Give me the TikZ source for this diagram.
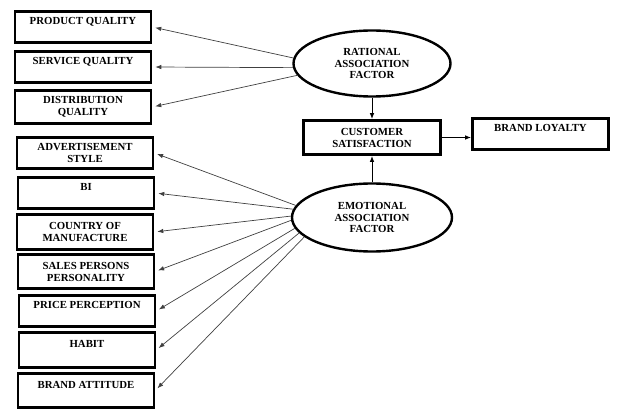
\documentclass[tikz,border=0pt]{standalone}
\usepackage{fontspec}
\setmainfont{Liberation Serif}
\usetikzlibrary{arrows.meta,shapes.geometric}

\begin{document}
\begin{tikzpicture}[x=1pt,y=-1pt,
    item/.style={draw,line width=2.6pt,minimum width=136pt,minimum height=31pt,
      inner sep=1pt,align=center,font=\fontsize{10.8}{12}\selectfont\bfseries},
    factor/.style={ellipse,draw,line width=2.4pt,inner sep=0pt,align=center,
      font=\fontsize{10.8}{11.5}\selectfont\bfseries},
    flow/.style={-{Latex[length=6pt,width=4.5pt]},draw=black!75,line width=0.7pt,shorten >=3pt},
    link/.style={-{Latex[length=6pt,width=4.5pt]},draw=black,line width=1pt}
  ]
    \useasboundingbox (0,0) rectangle (624,417);

    % rational side
    \node[item] (pq) at (83,27) {PRODUCT QUALITY\\~};
    \node[item] (sq) at (83,67) {SERVICE QUALITY\\~};
    \node[item,minimum height=33pt] (dq) at (83,107) {DISTRIBUTION\\QUALITY};

    % emotional side
    \node[item] (adv) at (85,153) {ADVERTISEMENT\\STYLE};
    \node[item] (bi) at (86,193) {BI\\~};
    \node[item,minimum height=35pt] (com) at (85,232) {COUNTRY OF\\MANUFACTURE};
    \node[item,minimum height=34pt] (spp) at (86,271.5) {SALES PERSONS\\PERSONALITY};
    \node[item] (pp) at (87,311) {PRICE PERCEPTION\\~};
    \node[item,minimum height=35pt] (hab) at (87,350) {HABIT\\~};
    \node[item,minimum height=34pt] (ba) at (86,390.5) {BRAND ATTITUDE\\~};

    % factors and outcomes
    \node[factor,minimum width=157pt,minimum height=66pt] (raf) at (372,63.5)
      {RATIONAL\\ASSOCIATION\\FACTOR};
    \node[factor,minimum width=160pt,minimum height=68pt] (eaf) at (372,217.5)
      {EMOTIONAL\\ASSOCIATION\\FACTOR};
    \node[item,minimum width=137pt,minimum height=34pt] (cs) at (372,137.5)
      {CUSTOMER\\SATISFACTION};
    \node[item] (bl) at (540.5,134) {BRAND LOYALTY\\~};

    \draw[flow] (raf.176) -- (pq.east);
    \draw[flow] (raf.183) -- (sq.east);
    \draw[flow] (raf.189) -- (dq.east);

    \draw[flow] (eaf.171) -- (adv.east);
    \draw[flow] (eaf.174) -- (bi.east);
    \draw[flow] (eaf.179) -- (com.east);
    \draw[flow] (eaf.182) -- (spp.east);
    \draw[flow] (eaf.188) -- (pp.east);
    \draw[flow] (eaf.192) -- (hab.east);
    \draw[flow] (eaf.196) -- (ba.east);

    \draw[link] (raf.south) -- (cs.north);
    \draw[link] (eaf.north) -- (cs.south);
    \draw[link] (cs.east) -- (cs.east -| bl.west);
  \end{tikzpicture}
\end{document}
